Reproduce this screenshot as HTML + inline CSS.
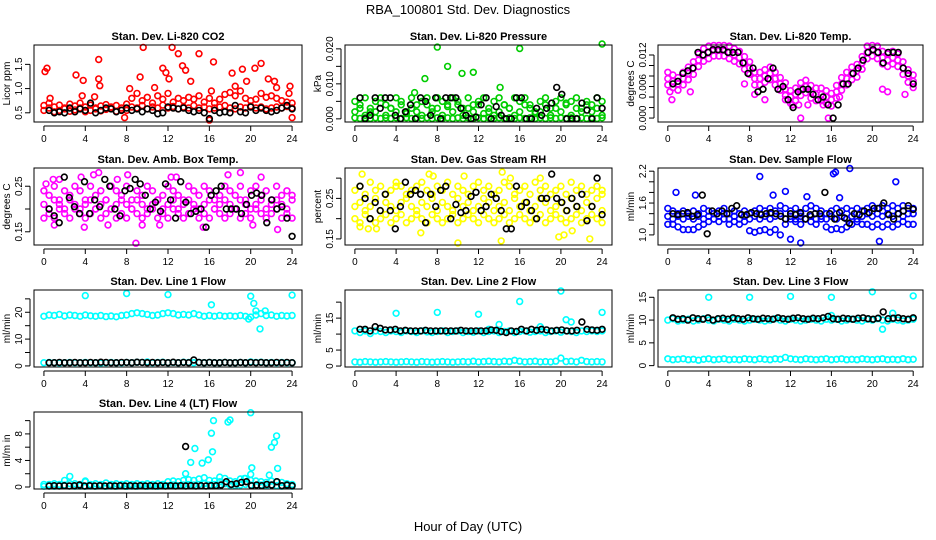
<!DOCTYPE html>
<html><head><meta charset="utf-8"><style>
html,body{margin:0;padding:0;background:#fff}
svg{display:block;font-family:"Liberation Sans",sans-serif}
</style></head><body>
<svg id="chart" width="936" height="540" viewBox="0 0 936 540" xmlns="http://www.w3.org/2000/svg">
<rect width="936" height="540" fill="#fff"/>
<text x="468" y="14" text-anchor="middle" font-size="13">RBA_100801  Std. Dev. Diagnostics</text>
<text x="468" y="531" text-anchor="middle" font-size="13">Hour of Day (UTC)</text>
</svg>
<script>
const xTicks=[0,4,8,12,16,20,24];
// CO2
const co2A=[0.55,0.6,0.52,0.55,0.58,0.53,0.56,0.6,0.52,0.55,0.58,0.54,0.57,0.6,0.53,0.56,0.55,0.62,0.6,0.65,0.58,0.62,0.6,0.66,0.6,0.63,0.58,0.62,0.6,0.65,0.6,0.62,0.58,0.6,0.62,0.65,0.6,0.58,0.62,0.6,0.64,0.6,0.62,0.58,0.6,0.62,0.6,0.63,0.6];
const co2B=[0.65,0.7,0.62,0.66,0.6,0.68,0.64,0.7,0.62,0.66,0.6,0.64,0.67,0.62,0.65,0.6,0.68,0.8,0.9,0.75,0.82,0.7,0.85,0.78,0.9,0.72,0.8,0.75,0.82,0.78,0.85,0.72,0.8,0.7,0.78,0.88,0.92,0.85,0.95,0.8,0.75,0.78,0.9,0.82,0.85,0.8,0.75,0.72,0.7];
const co2OutX=[0.1,0.3,0.6,3.1,3.7,3.8,4.9,5.3,5.3,5.4,8.3,9.6,9.3,10.7,11.5,11.8,12.4,12.1,13,13.4,13.7,14.2,15,16.4,16.2,18.2,18.5,19.2,19.6,20.4,21,21.7,22.3,22.5,23.8,23.7,24,16,7.8];
const co2OutY=[1.35,1.42,0.8,1.28,0.85,1.17,0.83,1.6,1.2,1.06,1.0,1.85,1.24,1.02,1.42,1.33,1.85,1.2,1.72,1.47,1.38,1.15,1.72,1.55,0.95,1.32,1.05,1.4,1.15,1.42,1.52,1.2,1.15,1.02,1.05,0.9,0.4,0.35,0.4];
const co2K=[0.55,0.5,0.52,0.5,0.6,0.52,0.58,0.55,0.7,0.5,0.55,0.6,0.58,0.52,0.55,0.6,0.55,0.58,0.52,0.58,0.55,0.48,0.5,0.62,0.6,0.58,0.6,0.55,0.52,0.55,0.5,0.38,0.55,0.5,0.52,0.5,0.65,0.52,0.5,0.62,0.55,0.6,0.55,0.52,0.55,0.6,0.65,0.58];
// Pressure
const prA=[0.0003,0.0001,0.0003,0.0001,0.0003,0.0001,0.0003,0.0001,0.0003,0.0001,0.0003,0.0001,0.0003,0.0001,0.0003,0.0001,0.0003,0.0001,0.0003,0.0001,0.0003,0.0001,0.0003,0.0001,0.0003,0.0001,0.0003,0.0001,0.0003,0.0001,0.0003,0.0001,0.0003,0.0001,0.0003,0.0001,0.0003,0.0001,0.0003,0.0001,0.0003,0.0001,0.0003,0.0001,0.0003,0.0001,0.0003,0.0001,0.0003];
const prB=[0.005,0.003,0.006,0.002,0.005,0.006,0.004,0.003,0.006,0.005,0.002,0.006,0.004,0.005,0.006,0.003,0.006,0.005,0.004,0.006,0.005,0.003,0.006,0.004,0.005,0.006,0.002,0.005,0.006,0.004,0.003,0.006,0.005,0.006,0.004,0.002,0.005,0.006,0.003,0.005,0.006,0.004,0.005,0.006,0.003,0.005,0.004,0.006,0.005];
const prC=[0.002,0.004,0.001,0.003,0.002,0.0045,0.001,0.003,0.002,0.004,0.0015,0.003,0.002,0.001,0.004,0.002,0.003,0.001,0.0035,0.002,0.004,0.001,0.003,0.002,0.004,0.0015,0.003,0.001,0.002,0.004,0.003,0.001,0.002,0.004,0.003,0.0015,0.002,0.004,0.001,0.003,0.002,0.0045,0.001,0.003,0.002,0.004,0.002,0.003,0.001];
const prOutX=[8,9,10.4,11.5,6.8,14.1,16,24,5.8];
const prOutY=[0.0205,0.015,0.013,0.0133,0.0115,0.009,0.0201,0.0214,0.0075];
const prK=[0.006,0,0.001,0.006,0.003,0.006,0.006,0.001,0,0.002,0.004,0,0.006,0.005,0.001,0.006,0,0.006,0.006,0.006,0.003,0.001,0,0.0005,0.004,0.006,0,0.0035,0.001,0,0,0.006,0.006,0,0,0.003,0.001,0.003,0.0045,0.009,0.007,0,0,0,0.0045,0.0025,0,0.006,0.003];
// Li-820 Temp
const tHi=[0.0087,0.0082,0.0077,0.0087,0.0097,0.0107,0.0122,0.0132,0.0137,0.0138,0.0138,0.0138,0.0137,0.0132,0.0127,0.0117,0.0107,0.0087,0.0087,0.0092,0.0097,0.0087,0.0077,0.0067,0.0052,0.0057,0.0067,0.0072,0.0062,0.0057,0.0057,0.0052,0.0047,0.0062,0.0077,0.0087,0.0097,0.0102,0.0117,0.0137,0.0138,0.0137,0.0127,0.0122,0.0127,0.0122,0.0107,0.0092,0.0082];
const tMid=[0.0075,0.007,0.0065,0.0075,0.0085,0.0095,0.011,0.012,0.0125,0.013,0.013,0.013,0.0125,0.012,0.0115,0.0105,0.0095,0.0075,0.0075,0.008,0.0085,0.0075,0.0065,0.0055,0.004,0.0045,0.0055,0.006,0.005,0.0045,0.0045,0.004,0.0035,0.005,0.0065,0.0075,0.0085,0.009,0.0105,0.0125,0.013,0.0125,0.0115,0.011,0.0115,0.011,0.0095,0.008,0.007];
const tLo=[0.0063,0.0058,0.0053,0.0063,0.0073,0.0083,0.0098,0.0108,0.0113,0.0118,0.0118,0.0118,0.0113,0.0108,0.0103,0.0093,0.0083,0.0063,0.0063,0.0068,0.0073,0.0063,0.0053,0.0043,0.0028,0.0033,0.0043,0.0048,0.0038,0.0033,0.0033,0.0028,0.0023,0.0038,0.0053,0.0063,0.0073,0.0078,0.0093,0.0113,0.0118,0.0113,0.0103,0.0098,0.0103,0.0098,0.0083,0.0068,0.0058];
const tOutX=[0.4,0.2,8.5,9.5,11.5,12.2,13,13.7,15.2,15.7,16.8,12.8,2.2,21,21.5,23.2,7.5];
const tOutY=[0.0035,0.005,0.0045,0.0035,0.0035,0.0025,0,0.0025,0.0025,0,0.004,0.0025,0.005,0.0055,0.005,0.0045,0.0065];
const tK=[0.0065,0.007,0.0085,0.009,0.0095,0.0125,0.012,0.0125,0.013,0.013,0.013,0.0125,0.0125,0.0125,0.0105,0.0085,0.0095,0.005,0.0055,0.0075,0.0095,0.0055,0.006,0.0035,0.002,0.005,0.0055,0.0055,0.0045,0.0035,0.004,0.0025,0.0,0.0025,0.0065,0.0065,0.0085,0.0095,0.011,0.0125,0.013,0.0125,0.0105,0.0125,0.0125,0.0125,0.0095,0.0085,0.0065];
// Amb box temp
const ambA=[0.24,0.23,0.25,0.22,0.24,0.23,0.25,0.24,0.22,0.25,0.23,0.24,0.22,0.25,0.24,0.23,0.25,0.22,0.24,0.23,0.25,0.24,0.22,0.23,0.25,0.24,0.23,0.22,0.25,0.24,0.23,0.25,0.24,0.22,0.23,0.25,0.24,0.23,0.25,0.22,0.24,0.25,0.23,0.24,0.22,0.25,0.23,0.24,0.23];
const ambB=[0.21,0.2,0.22,0.21,0.2,0.22,0.21,0.2,0.21,0.22,0.2,0.21,0.22,0.2,0.21,0.22,0.21,0.2,0.22,0.21,0.2,0.21,0.22,0.2,0.21,0.22,0.2,0.21,0.22,0.21,0.2,0.21,0.22,0.2,0.21,0.22,0.21,0.2,0.22,0.21,0.2,0.21,0.22,0.2,0.21,0.22,0.21,0.2,0.22];
const ambC=[0.18,0.19,0.18,0.2,0.19,0.18,0.2,0.19,0.18,0.19,0.2,0.18,0.19,0.2,0.18,0.19,0.18,0.2,0.19,0.18,0.19,0.2,0.18,0.19,0.18,0.2,0.19,0.18,0.19,0.2,0.18,0.19,0.18,0.2,0.19,0.18,0.19,0.2,0.18,0.19,0.18,0.2,0.19,0.18,0.19,0.2,0.18,0.19,0.18];
const ambOutX=[0.2,0.9,1.5,3.9,3.6,4.8,5.3,8.1,8.9,9.5,11.2,12.3,12.8,15.4,17.8,19,20.2,21,22.6,1,6.2,7.1];
const ambOutY=[0.255,0.265,0.265,0.16,0.27,0.275,0.28,0.275,0.125,0.165,0.165,0.27,0.27,0.16,0.275,0.28,0.165,0.27,0.155,0.165,0.165,0.265];
const ambK=[0.2,0.185,0.17,0.27,0.225,0.205,0.19,0.26,0.19,0.22,0.205,0.265,0.25,0.2,0.185,0.24,0.245,0.265,0.255,0.23,0.2,0.215,0.195,0.255,0.22,0.18,0.26,0.215,0.19,0.195,0.2,0.16,0.23,0.24,0.25,0.2,0.2,0.2,0.19,0.21,0.23,0.235,0.23,0.17,0.22,0.2,0.205,0.18,0.14];
// Gas stream RH
const rhA=[0.27,0.28,0.26,0.29,0.27,0.28,0.26,0.27,0.29,0.28,0.26,0.27,0.28,0.29,0.27,0.26,0.28,0.27,0.29,0.26,0.28,0.27,0.26,0.28,0.29,0.27,0.28,0.26,0.27,0.29,0.28,0.26,0.27,0.28,0.26,0.29,0.27,0.28,0.26,0.27,0.28,0.26,0.29,0.27,0.28,0.26,0.27,0.28,0.26];
const rhB=[0.23,0.24,0.22,0.23,0.25,0.22,0.24,0.23,0.22,0.24,0.25,0.23,0.22,0.24,0.23,0.25,0.22,0.24,0.23,0.22,0.25,0.23,0.24,0.22,0.23,0.25,0.24,0.22,0.23,0.24,0.22,0.25,0.23,0.24,0.22,0.23,0.25,0.24,0.22,0.23,0.24,0.22,0.25,0.23,0.22,0.24,0.23,0.25,0.22];
const rhC=[0.2,0.19,0.21,0.2,0.19,0.2,0.21,0.19,0.2,0.21,0.19,0.2,0.21,0.2,0.19,0.21,0.2,0.19,0.2,0.21,0.19,0.2,0.21,0.2,0.19,0.21,0.2,0.19,0.2,0.21,0.19,0.2,0.21,0.2,0.19,0.2,0.21,0.19,0.2,0.21,0.2,0.19,0.2,0.21,0.19,0.2,0.21,0.2,0.19];
const rhOutX=[0.7,0.5,1.3,2.1,7.2,7.6,10,10.6,14.2,14.3,15.1,19.8,20.3,21.1,22.8,24,4,6.4,18];
const rhOutY=[0.31,0.18,0.175,0.175,0.31,0.305,0.14,0.305,0.145,0.315,0.3,0.155,0.16,0.17,0.15,0.27,0.28,0.165,0.3];
const rhK=[0.28,0.25,0.2,0.24,0.22,0.26,0.22,0.175,0.23,0.29,0.26,0.27,0.26,0.19,0.26,0.23,0.27,0.28,0.2,0.235,0.215,0.22,0.255,0.265,0.22,0.23,0.26,0.25,0.22,0.175,0.175,0.28,0.23,0.24,0.22,0.2,0.25,0.25,0.31,0.25,0.24,0.22,0.25,0.23,0.26,0.195,0.23,0.3,0.21];
// Sample flow
const sfA=[1.5,1.45,1.4,1.45,1.4,1.45,1.4,1.5,1.45,1.4,1.45,1.5,1.4,1.45,1.4,1.45,1.4,1.45,1.5,1.45,1.5,1.45,1.55,1.5,1.45,1.5,1.4,1.5,1.55,1.5,1.45,1.4,1.45,1.5,1.45,1.5,1.45,1.5,1.45,1.5,1.55,1.5,1.55,1.5,1.55,1.5,1.55,1.5,1.5];
const sfB=[1.35,1.3,1.35,1.3,1.35,1.3,1.35,1.3,1.35,1.3,1.35,1.4,1.3,1.35,1.3,1.35,1.3,1.35,1.3,1.35,1.3,1.35,1.4,1.3,1.35,1.3,1.35,1.3,1.35,1.3,1.35,1.3,1.35,1.3,1.35,1.3,1.35,1.3,1.35,1.4,1.35,1.4,1.35,1.4,1.35,1.4,1.35,1.4,1.4];
const sfC=[1.2,1.2,1.15,1.1,1.1,1.1,1.15,1.2,1.25,1.3,1.25,1.3,1.2,1.25,1.2,1.25,1.08,1.05,1.08,1.1,1.05,1.1,1.0,1.2,1.3,1.25,1.2,1.3,1.25,1.2,1.3,1.15,1.1,1.12,1.1,1.15,1.2,1.25,1.2,1.2,1.15,1.2,1.15,1.2,1.15,1.2,1.25,1.2,1.2];
const sfOutX=[0.8,2.7,9,10.3,11.5,12,13,16.2,16.4,17.8,22.3,20.7,13.6,16.8];
const sfOutY=[1.8,1.75,2.1,1.75,1.82,0.92,0.85,2.15,2.18,2.25,2.0,0.88,1.72,1.7];
const sfK=[1.4,1.38,1.4,1.42,1.35,1.38,1.75,1.02,1.45,1.4,1.45,1.4,1.5,1.55,1.38,1.38,1.42,1.4,1.38,1.4,1.42,1.4,1.35,1.3,1.4,1.38,1.42,1.3,1.38,1.4,1.4,1.8,1.4,1.3,1.42,1.32,1.22,1.4,1.38,1.45,1.42,1.5,1.5,1.6,1.38,1.3,1.4,1.45,1.55,1.48];
// Line 1
const l1A=[18.5,19,18.8,19.2,18.6,19,18.8,18.5,19,18.7,18.5,18.8,18.4,18.6,18.3,18.8,19,19.5,19.8,19.5,19.2,18.8,19,19.5,19.8,19.5,19,19.2,19,19.5,19,18.5,18.8,18.5,18.8,18.5,18.7,18.5,18.8,18.5,18.2,19,19.5,18.8,19,18.5,18.8,18.6,18.8];
const l1B=[1.2,1.3,1.2,1.1,1.2,1.3,1.2,1.2,1.3,1.2,1.2,1.1,1.2,1.3,1.2,1.2,1.3,1.2,1.4,1.3,1.5,1.2,1.3,1.4,1.2,1.3,1.2,1.4,1.3,1.2,1.3,1.2,1.3,1.2,1.2,1.3,1.2,1.2,1.3,1.2,1.5,1.3,1.4,1.2,1.3,1.2,1.3,1.2,1.2];
const l1OutX=[4,8,12,16.2,20,20.3,20.5,20.9,21.4,24,19.8];
const l1OutY=[26.2,27,26.6,22.8,26,23.3,20.5,13.8,20.5,26.4,17.5];
const l1K=[1.2,1.2,1.3,1.2,1.2,1.3,1.2,1.2,1.3,1.2,1.4,1.3,1.2,1.2,1.3,1.3,1.2,1.4,1.3,1.2,1.3,1.2,1.3,1.2,1.4,1.2,1.3,1.2,2.2,1.3,1.2,1.3,1.2,1.2,1.3,1.2,1.2,1.3,1.2,1.3,1.2,1.3,1.2,1.2,1.3,1.2,1.3,1.2];
// Line 2
const l2A=[11,10.5,11,10.2,11,10.8,10.5,11,10.8,10.5,11,10.8,10.5,11,10.7,10.5,10.8,11,10.5,10.8,11,10.5,10.8,10.6,11,10.5,10.8,11,10.5,10.8,11,10.5,10.8,11,10.6,10.8,11,10.5,10.8,11,10.6,11,10.8,10.5,11,10.8,11,10.8,11];
const l2B=[1.3,1.2,1.4,1.3,1.2,1.3,1.4,1.3,1.2,1.3,1.4,1.3,1.2,1.4,1.3,1.2,1.3,1.4,1.3,1.2,1.3,1.4,1.3,1.5,1.3,1.4,1.5,1.4,1.3,1.5,1.4,1.8,1.5,1.3,1.4,1.5,1.3,1.4,1.3,1.5,2.5,1.4,1.5,1.3,1.8,1.4,1.3,1.4,1.3];
const l2OutX=[4,8,12,14,16,20,20.5,21,24,13,18];
const l2OutY=[16.5,16.8,16.2,13,20.2,23.5,14.5,13.8,16.8,11.5,12.3];
const l2K=[11.5,11.5,11,12.3,11.8,11.3,11.3,11.5,11,11.2,11,11,11,11.2,11,11,11,11,11,11,11.2,11,11,11,11,11,11.3,11.2,10.8,10.5,11,10.8,11.5,11,11.5,11.2,11.5,11.3,11,11.2,11.3,11,11,11.2,13.8,11.5,11.3,11.2,11.5];
// Line 3
const l3A=[10,10.3,9.8,10,10.2,9.8,10,10.3,10,9.8,10.2,10,9.8,10.2,10,9.8,10,10.2,10,9.8,10,10.3,10,9.8,10.2,10,9.8,10,10.2,10,9.8,10.2,10,10.2,9.8,10,10.2,10,9.8,10.2,10,10.3,10,9.8,10.2,10,9.8,10,10.2];
const l3B=[1.5,1.3,1.4,1.5,1.3,1.4,1.2,1.4,1.5,1.3,1.4,1.5,1.3,1.4,1.3,1.5,1.4,1.3,1.5,1.4,1.3,1.5,1.4,1.8,1.5,1.4,1.3,1.5,1.4,1.3,1.4,1.5,1.3,1.4,1.5,1.3,1.4,1.3,1.5,1.4,1.3,1.4,1.5,1.3,1.4,1.3,1.5,1.3,1.4];
const l3OutX=[4,8,12,16,20,24,21,22,16];
const l3OutY=[15,15,15.2,15,16.2,15.3,8,11.5,11];
const l3K=[10.5,10.2,10.3,10,10.5,10.3,10.2,10.5,10,10.3,10.4,10.2,10.5,10.3,10.2,10.5,10.3,10.2,10.4,10.3,10.2,10.5,10.3,10.2,10.4,10.5,10.3,10.2,10.4,10.3,10.5,10.8,10.3,10.2,10.4,10.3,10.2,10.4,10.5,10.3,10.2,10.4,11.8,10.3,10.4,10.5,10.3,10.2,10.5];
// Line 4
const l4A=[0.4,0.4,0.5,0.4,1.0,1.6,0.5,0.4,0.8,0.4,0.5,0.4,0.6,0.4,0.5,0.4,0.5,0.4,0.5,0.4,0.5,0.4,0.5,0.4,0.8,0.9,0.8,1.0,1.1,1.0,1.2,1.4,1.0,0.9,0.8,1.3,0.9,0.8,1.2,1.3,1.0,0.9,0.8,0.7,0.9,0.8,0.7,0.5,0.4];
const l4B=[0.1,0.15,0.1,0.2,0.3,0.5,0.1,0.15,0.1,0.15,0.1,0.2,0.1,0.15,0.1,0.2,0.1,0.15,0.1,0.2,0.1,0.15,0.1,0.2,0.2,0.3,0.2,0.3,0.4,0.3,0.4,0.5,0.3,0.4,0.3,0.5,0.3,0.2,0.3,0.4,0.3,0.2,0.3,0.2,0.3,0.2,0.1,0.2,0.1];
const l4OutX=[13.7,14.2,14.6,15.3,15.9,16.2,16.3,16.4,17.8,18,20,20.1,20,21.8,22,22.3,22.5,22.6,4,19.4,17];
const l4OutY=[2.0,3.7,5.8,3.6,4.1,8.1,5.3,10,9.8,10.1,11.2,2.9,1.9,1.8,6,6.7,7.7,2.8,0.9,1.3,1.5];
const l4K=[0.15,0.2,0.15,0.2,0.15,0.2,0.3,0.15,0.2,0.15,0.2,0.15,0.2,0.15,0.2,0.15,0.2,0.15,0.2,0.15,0.2,0.15,0.2,0.15,0.2,0.15,0.2,0.15,0.2,0.15,0.2,0.15,0.2,0.2,0.3,0.8,0.4,0.5,0.7,0.8,0.2,0.3,0.2,0.4,0.3,0.8,0.2,0.3,0.2];
const l4KOutX=[13.7];
const l4KOutY=[6.1];

const NS="http://www.w3.org/2000/svg";
const svg=document.getElementById('chart');
function mk(tag,attrs,parent){const e=document.createElementNS(NS,tag);for(const k in attrs)e.setAttribute(k,attrs[k]);(parent||svg).appendChild(e);return e;}

const panels=[
 {id:'co2',title:'Stan. Dev. Li-820 CO2',ylab:'Licor ppm',L:34,T:45,W:268,ymin:0.31,ymax:1.9,ticks:[0.5,1,1.5],labels:[[0.5,'0.5'],[1,'1.0'],[1.5,'1.5']],col:'#ff0000',series:[co2A,co2B],ox:co2OutX,oy:co2OutY,k:co2K},
 {id:'pressure',title:'Stan. Dev. Li-820 Pressure',ylab:'kPa',L:345,T:45,W:267,ymin:-0.0009,ymax:0.0211,ticks:[0,0.005,0.01,0.015,0.02],labels:[[0,'0.000'],[0.01,'0.010'],[0.02,'0.020']],col:'#00cd00',series:[prA,prC,prB],ox:prOutX,oy:prOutY,k:prK},
 {id:'li820-temp',title:'Stan. Dev. Li-820 Temp.',ylab:'degrees C',L:658,T:45,W:265,ymin:-0.00075,ymax:0.0139,ticks:[0,0.002,0.004,0.006,0.008,0.01,0.012],labels:[[0,'0.000'],[0.006,'0.006'],[0.012,'0.012']],col:'#ff00ff',series:[tHi,tMid,tLo],ox:tOutX,oy:tOutY,k:tK},
 {id:'amb-box-temp',title:'Stan. Dev. Amb. Box Temp.',ylab:'degrees C',L:34,T:168,W:268,ymin:0.121,ymax:0.29,ticks:[0.15,0.2,0.25],labels:[[0.15,'0.15'],[0.25,'0.25']],col:'#ff00ff',series:[ambA,ambB,ambC],ox:ambOutX,oy:ambOutY,k:ambK},
 {id:'gas-rh',title:'Stan. Dev. Gas Stream RH',ylab:'percent',L:345,T:168,W:267,ymin:0.135,ymax:0.325,ticks:[0.15,0.2,0.25,0.3],labels:[[0.15,'0.15'],[0.25,'0.25']],col:'#ffff00',series:[rhA,rhB,rhC],ox:rhOutX,oy:rhOutY,k:rhK},
 {id:'sample-flow',title:'Stan. Dev. Sample Flow',ylab:'ml/min',L:658,T:168,W:265,ymin:0.81,ymax:2.26,ticks:[1,1.2,1.4,1.6,1.8,2,2.2],labels:[[1,'1.0'],[1.6,'1.6'],[2.2,'2.2']],col:'#0000ff',series:[sfA,sfB,sfC],ox:sfOutX,oy:sfOutY,k:sfK},
 {id:'line1-flow',title:'Stan. Dev. Line 1 Flow',ylab:'ml/min',L:34,T:290,W:268,ymin:-0.4,ymax:28.3,ticks:[0,5,10,15,20,25],labels:[[0,'0'],[10,'10'],[20,'20']],col:'#00ffff',series:[l1A,l1B],ox:l1OutX,oy:l1OutY,k:l1K},
 {id:'line2-flow',title:'Stan. Dev. Line 2 Flow',ylab:'ml/min',L:345,T:290,W:267,ymin:-0.3,ymax:23.8,ticks:[0,5,10,15,20],labels:[[0,'0'],[5,'5'],[15,'15']],col:'#00ffff',series:[l2A,l2B],ox:l2OutX,oy:l2OutY,k:l2K},
 {id:'line3-flow',title:'Stan. Dev. Line 3 Flow',ylab:'ml/min',L:658,T:290,W:265,ymin:-0.3,ymax:16.6,ticks:[0,5,10,15],labels:[[0,'0'],[5,'5'],[10,'10'],[15,'15']],col:'#00ffff',series:[l3A,l3B],ox:l3OutX,oy:l3OutY,k:l3K},
 {id:'line4-flow',title:'Stan. Dev. Line 4 (LT) Flow',ylab:'ml/m in',L:34,T:412,W:268,ymin:-0.3,ymax:11.3,ticks:[0,2,4,6,8,10],labels:[[0,'0'],[4,'4'],[8,'8']],col:'#00ffff',series:[l4A,l4B],ox:l4OutX,oy:l4OutY,k:l4K,kox:l4KOutX,koy:l4KOutY}
];
const H=77;
panels.forEach(p=>{
 const g=mk('g',{});
 
 
 const xs=v=>p.L+(v+0.96)/25.92*p.W;
 const ys=v=>p.T+H-(v-p.ymin)/(p.ymax-p.ymin)*H;
 const t=mk('text',{x:p.L+p.W/2,y:p.T-5,'text-anchor':'middle','font-size':'11','font-weight':'bold'},g);t.textContent=p.title;
 
 
 const yl=mk('text',{transform:`translate(${p.L-24},${p.T+H/2}) rotate(-90)`,'text-anchor':'middle','font-size':'10'},g);yl.textContent=p.ylab;
 
 
 const pts=mk('g',{fill:'none','stroke-width':'1.6'},g);
 
 
 function dot(x,y,c){const e=mk('circle',{cx:xs(x).toFixed(1),cy:ys(y).toFixed(1),r:'2.9',stroke:c},pts);
  
  }
 p.series.forEach(s=>s.forEach((v,i)=>dot(i*24/(s.length-1),v,p.col)));
 p.ox.forEach((x,i)=>dot(x,p.oy[i],p.col));
 p.k.forEach((v,i)=>dot(0.5+i*23.5/(p.k.length-1),v,'#000'));
 if(p.kox)p.kox.forEach((x,i)=>dot(x,p.koy[i],'#000'));
 const box=mk('rect',{x:p.L,y:p.T,width:p.W,height:H,fill:'none',stroke:'#000','stroke-width':'1'},g);
 
 
 const B=p.T+H;
 mk('line',{x1:xs(0),x2:xs(24),y1:B+4,y2:B+4,stroke:'#000'},g);
 xTicks.forEach(v=>{
  mk('line',{x1:xs(v),x2:xs(v),y1:B+4,y2:B+9,stroke:'#000'},g);
  const tl=mk('text',{x:xs(v),y:B+20,'text-anchor':'middle','font-size':'10'},g);tl.textContent=v;
  
  
 });
 const ax=p.L-4;
 mk('line',{x1:ax,x2:ax,y1:ys(p.ticks[0]),y2:ys(p.ticks[p.ticks.length-1]),stroke:'#000'},g);
 p.ticks.forEach(v=>mk('line',{x1:ax-5,x2:ax,y1:ys(v),y2:ys(v),stroke:'#000'},g));
 p.labels.forEach(([v,s])=>{
  const tl=mk('text',{transform:`translate(${ax-8},${ys(v)}) rotate(-90)`,'text-anchor':'middle','font-size':'10'},g);tl.textContent=s;
  
  
 });
});
</script>
</body></html>
